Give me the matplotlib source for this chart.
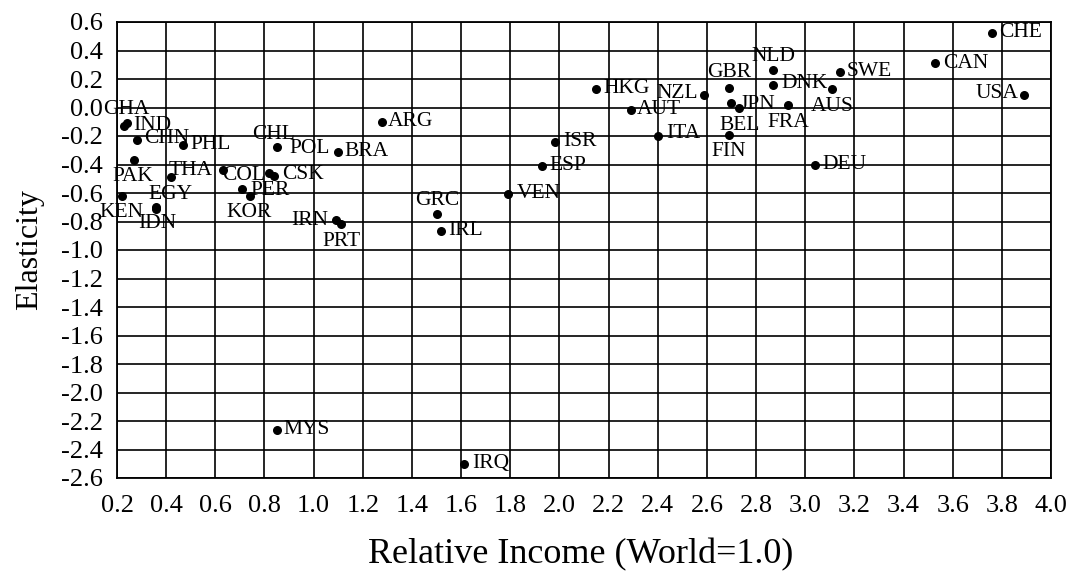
import numpy as np
import matplotlib
matplotlib.use("Agg")
import matplotlib.pyplot as plt
from matplotlib.ticker import MultipleLocator, FormatStrFormatter

plt.rcParams['font.family'] = ['Liberation Serif', 'DejaVu Serif']

# country codes, relative income (World=1.0) and elasticity
countries = ['GHA', 'IND', 'CHN', 'PAK', 'PHL', 'THA', 'KEN', 'EGY', 'IDN', 'COL',
             'CHL', 'POL', 'BRA', 'CSK', 'PER', 'KOR', 'IRN', 'PRT', 'ARG', 'GRC',
             'IRL', 'VEN', 'ISR', 'ESP', 'HKG', 'AUT', 'NZL', 'ITA', 'GBR', 'JPN',
             'BEL', 'FIN', 'NLD', 'DNK', 'FRA', 'AUS', 'SWE', 'DEU', 'CHE', 'CAN',
             'USA', 'MYS', 'IRQ']
income = [0.23, 0.24, 0.28, 0.27, 0.47, 0.42, 0.22, 0.36, 0.36, 0.63,
          0.82, 0.85, 1.10, 0.84, 0.71, 0.74, 1.09, 1.11, 1.28, 1.50,
          1.52, 1.79, 1.98, 1.93, 2.15, 2.29, 2.59, 2.40, 2.69, 2.73,
          2.70, 2.69, 2.87, 2.87, 2.93, 3.11, 3.14, 3.04, 3.76, 3.53,
          3.89, 0.85, 1.61]
elasticity = [-0.13, -0.11, -0.23, -0.37, -0.26, -0.49, -0.62, -0.70, -0.71, -0.44,
              -0.46, -0.28, -0.31, -0.48, -0.57, -0.62, -0.79, -0.82, -0.10, -0.75,
              -0.87, -0.61, -0.24, -0.41, 0.13, -0.02, 0.09, -0.20, 0.14, 0.00,
              0.03, -0.19, 0.26, 0.16, 0.02, 0.13, 0.25, -0.40, 0.52, 0.31,
              0.09, -2.26, -2.50]

# where each label sits relative to its dot (pixels)
label_offset = {
    'GHA': (2, 17), 'IND': (25, -2), 'CHN': (30, 2), 'PAK': (-1, -16), 'PHL': (27, 0),
    'THA': (20, 7), 'KEN': (0, -17), 'EGY': (14, 13), 'IDN': (1, -15), 'COL': (21, -5),
    'CHL': (4, 39), 'POL': (33, -1), 'BRA': (28, 0), 'CSK': (29, 1), 'PER': (28, -2),
    'KOR': (-1, -17), 'IRN': (-26, 0), 'PRT': (1, -17), 'ARG': (28, 0), 'GRC': (1, 14),
    'IRL': (24, 1), 'VEN': (31, 1), 'ISR': (25, 0), 'ESP': (26, 0), 'HKG': (30, 0),
    'AUT': (28, 1), 'NZL': (-27, 1), 'ITA': (25, 2), 'GBR': (0, 15), 'JPN': (18, 3),
    'BEL': (8, -22), 'FIN': (0, -17), 'NLD': (0, 14), 'DNK': (31, 1), 'FRA': (0, -18),
    'AUS': (0, -18), 'SWE': (30, 0), 'DEU': (29, 0), 'CHE': (29, 1), 'CAN': (30, 0),
    'USA': (-27, 1), 'MYS': (30, 0), 'IRQ': (27, 0),
}

fig = plt.figure(figsize=(10.77, 5.76), dpi=100)
ax = fig.add_axes([117 / 1077, 1 - 478 / 576, (1051 - 117) / 1077, (478 - 22) / 576])

ax.set_xlim(0.2, 4.0)
ax.set_ylim(-2.6, 0.6)
ax.xaxis.set_major_locator(MultipleLocator(0.2))
ax.yaxis.set_major_locator(MultipleLocator(0.2))
ax.xaxis.set_major_formatter(FormatStrFormatter('%.1f'))
ax.yaxis.set_major_formatter(FormatStrFormatter('%.1f'))
ax.grid(True, color='black', linewidth=1.2)
ax.set_axisbelow(True)
for s in ax.spines.values():
    s.set_linewidth(1.3)
ax.tick_params(length=0, labelsize=19)
ax.tick_params(axis='x', pad=12)
ax.tick_params(axis='y', pad=10)

ax.scatter(income, elasticity, s=30, color='black', zorder=3)
for c, x, y in zip(countries, income, elasticity):
    ax.annotate(c, (x, y), xytext=label_offset[c], textcoords='offset pixels',
                ha='center', va='center', fontsize=15.5, zorder=4)

fig.text(581 / 1077, 1 - 555 / 576, 'Relative Income (World=1.0)', ha='center', va='center', fontsize=26)
fig.text(30 / 1077, 1 - 250 / 576, 'Elasticity', ha='center', va='center', rotation=90, fontsize=23)

fig.savefig('out.png', dpi=100)
